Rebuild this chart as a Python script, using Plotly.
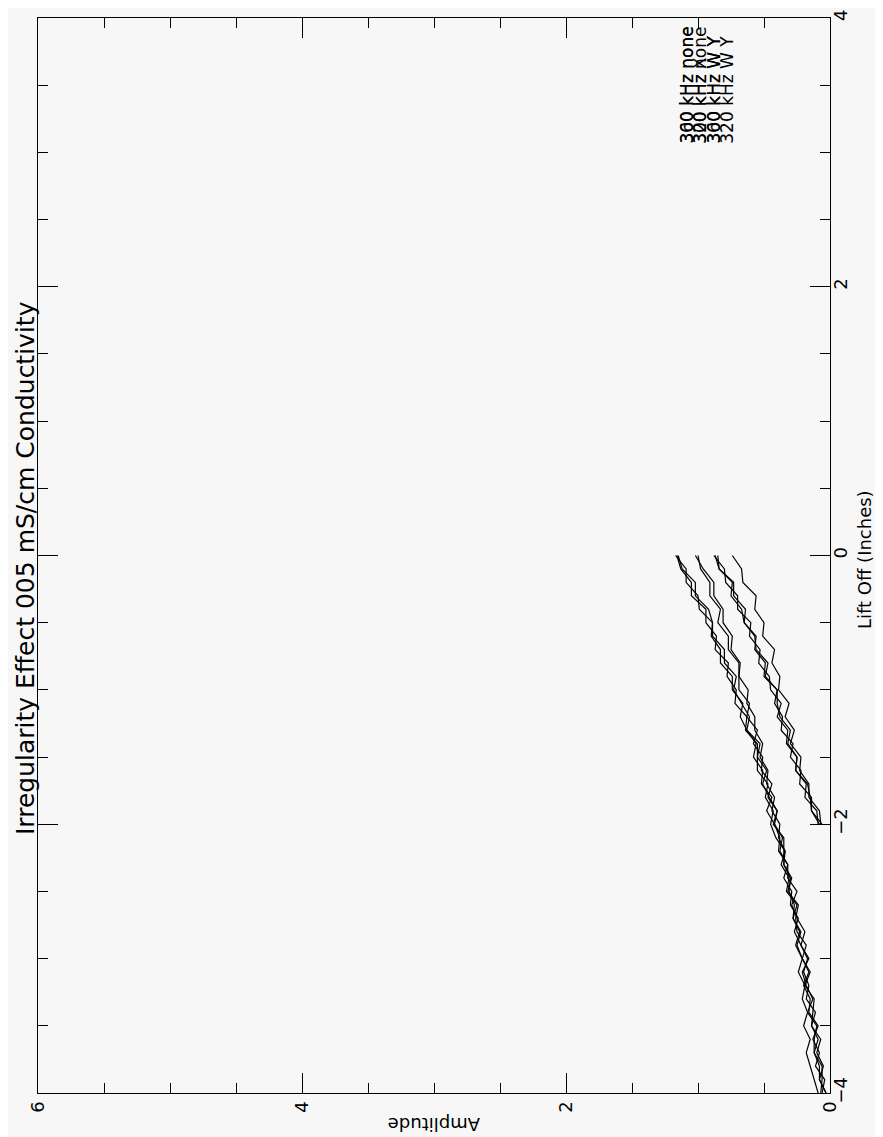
import plotly.graph_objects as go

# Lift-off positions (inches)
lift_long = [round(-4.0 + 0.1 * i, 1) for i in range(41)]
lift_short = [round(-2.0 + 0.1 * i, 1) for i in range(21)]

# Amplitude readings (long sweeps, -4 .. 0 in)
amp_a1 = [0.06,0.04,0.11,0.08,0.13,0.09,0.16,0.15,0.20,0.16,0.21,0.25,0.22,0.28,0.25,0.33,0.31,0.37,0.34,0.41,0.45,0.43,0.49,0.47,0.55,0.55,0.55,0.64,0.63,0.72,0.71,0.78,0.77,0.87,0.86,0.94,0.94,1.05,1.05,1.13,1.16]
amp_a2 = [0.03,0.08,0.08,0.12,0.09,0.14,0.11,0.18,0.16,0.20,0.17,0.22,0.27,0.24,0.30,0.29,0.35,0.32,0.39,0.38,0.42,0.48,0.44,0.52,0.51,0.58,0.56,0.63,0.68,0.66,0.74,0.74,0.83,0.83,0.90,0.89,0.99,1.00,1.09,1.09,1.17]
amp_a3 = [0.07,0.06,0.06,0.12,0.12,0.10,0.17,0.13,0.18,0.21,0.16,0.22,0.19,0.25,0.29,0.25,0.32,0.32,0.38,0.36,0.42,0.40,0.46,0.51,0.48,0.55,0.53,0.63,0.61,0.67,0.73,0.71,0.80,0.80,0.89,0.89,0.92,1.02,1.02,1.12,1.15]
amp_a4 = [0.03,0.08,0.05,0.10,0.07,0.14,0.13,0.12,0.19,0.15,0.21,0.18,0.25,0.26,0.24,0.32,0.29,0.35,0.35,0.35,0.43,0.40,0.47,0.44,0.52,0.51,0.58,0.55,0.63,0.61,0.69,0.69,0.69,0.77,0.77,0.85,0.83,0.91,0.91,0.98,1.00]
amp_a5 = [0.09,0.12,0.15,0.18,0.15,0.20,0.17,0.21,0.19,0.24,0.21,0.26,0.23,0.28,0.27,0.31,0.30,0.35,0.34,0.39,0.38,0.44,0.42,0.48,0.47,0.53,0.51,0.57,0.57,0.63,0.62,0.69,0.68,0.75,0.74,0.81,0.81,0.88,0.88,0.96,1.02]

# Amplitude readings (short sweeps, -2 .. 0 in)
amp_b1 = [0.08,0.14,0.14,0.23,0.22,0.30,0.28,0.37,0.36,0.42,0.40,0.50,0.49,0.57,0.56,0.65,0.67,0.75,0.74,0.84,0.87]
amp_b2 = [0.09,0.10,0.19,0.18,0.26,0.25,0.33,0.32,0.40,0.37,0.45,0.46,0.54,0.53,0.61,0.60,0.70,0.70,0.79,0.80,0.88]
amp_b3 = [0.06,0.14,0.15,0.17,0.26,0.25,0.32,0.30,0.38,0.40,0.40,0.49,0.47,0.56,0.57,0.65,0.64,0.73,0.73,0.84,0.85]
amp_b4 = [0.07,0.08,0.16,0.16,0.23,0.22,0.30,0.27,0.34,0.31,0.39,0.38,0.44,0.42,0.51,0.50,0.57,0.56,0.66,0.67,0.74]

long_series = [amp_a1, amp_a2, amp_a3, amp_a4, amp_a5]
short_series = [amp_b1, amp_b2, amp_b3, amp_b4]

# Legend labels (overlapping columns, as printed)
legend_cols = [
    ["360 kHz none", "300 kHz none"],
    ["320 kHz none", "300 kHz X"],
    ["300 kHz W Y", "360 kHz W Y"],
    ["320 kHz W Y"],
]
legend_amp_pos = [1.08, 0.98, 0.88, 0.78]

title_text = "Irregularity Effect 005 mS/cm Conductivity"
xlabel = "Lift Off (Inches)"
ylabel = "Amplitude"

FONT = "DejaVu Sans, Liberation Sans, sans-serif"
BG = "#f7f7f7"

fig = go.Figure()
for s in long_series:
    fig.add_trace(go.Scatter(x=s, y=lift_long, mode="lines",
                             line=dict(color="black", width=1.2), showlegend=False))
for s in short_series:
    fig.add_trace(go.Scatter(x=s, y=lift_short, mode="lines",
                             line=dict(color="black", width=1.2), showlegend=False))

W, H = 883, 1137
L, R, T, B = 30, 61, 10, 52

fig.update_layout(
    width=W, height=H,
    margin=dict(l=L, r=R, t=T, b=B, autoexpand=False),
    paper_bgcolor=BG, plot_bgcolor=BG,
    font=dict(family=FONT, color="black"),
    showlegend=False,
)
fig.update_xaxes(
    range=[6, 0], tickvals=[0, 2, 4, 6], ticks="inside", ticklen=20, tickwidth=1,
    tickcolor="black", showline=True, linecolor="black", linewidth=1.3, mirror="ticks",
    tickangle=-90, tickfont=dict(size=18, family=FONT), showgrid=False, zeroline=False,
    automargin=False,
    minor=dict(dtick=0.5, ticklen=10, ticks="inside", tickcolor="black", showgrid=False),
)
fig.update_yaxes(
    range=[-4, 4], tickvals=[-4, -2, 0, 2, 4], side="right", ticks="inside", ticklen=20,
    tickwidth=1, tickcolor="black", showline=True, linecolor="black", linewidth=1.3,
    mirror="ticks", tickangle=-90, tickfont=dict(size=18, family=FONT),
    ticklabelstandoff=-6,
    showgrid=False, zeroline=False, automargin=False,
    minor=dict(dtick=0.5, ticklen=10, ticks="inside", tickcolor="black", showgrid=False),
)

pw = W - L - R
ph = H - T - B

def px_to_paper_x(px):
    return (px - L) / pw

def px_to_paper_y(py):
    return (H - B - py) / ph

fig.add_annotation(text=title_text, textangle=-90, xref="paper", yref="paper",
                   x=px_to_paper_x(17), y=px_to_paper_y(560), xanchor="center",
                   yanchor="middle", showarrow=False,
                   font=dict(size=25, family=FONT, color="black"))
fig.add_annotation(text=ylabel, textangle=180, xref="paper", yref="paper",
                   x=0.5, y=px_to_paper_y(1116), xanchor="center", yanchor="middle",
                   showarrow=False, font=dict(size=18, family=FONT, color="black"))
fig.add_annotation(text=xlabel, textangle=-90, xref="paper", yref="paper",
                   x=px_to_paper_x(856), y=px_to_paper_y(552), xanchor="center",
                   yanchor="middle", showarrow=False,
                   font=dict(size=18, family=FONT, color="black"))

for labels, apos in zip(legend_cols, legend_amp_pos):
    for lab in labels:
        fig.add_annotation(text=lab, textangle=-90, xref="x", yref="y",
                           x=apos, y=3.05, yanchor="bottom", xanchor="center",
                           showarrow=False,
                           font=dict(size=17, family=FONT, color="black"))

fig.write_html("out.html")
